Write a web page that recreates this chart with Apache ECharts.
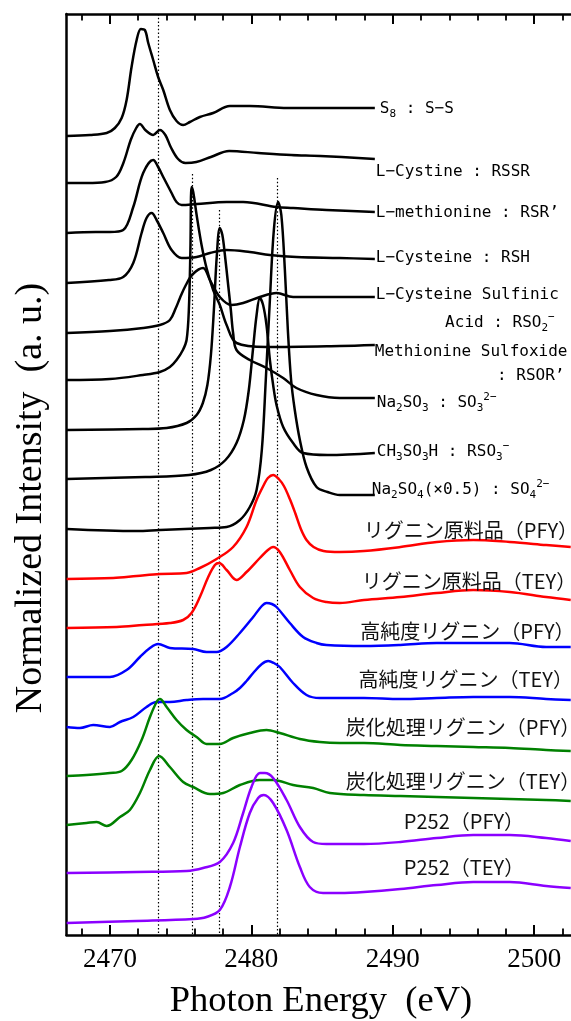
<!DOCTYPE html>
<html><head><meta charset="utf-8">
<script src="https://cdn.jsdelivr.net/npm/echarts@6.0.0/dist/echarts.min.js"></script>
<style>html,body{margin:0;padding:0;background:#fff}#c{width:571px;height:1021px}</style>
</head><body><div id="c"></div>
<script>
// ---------------- DATA ----------------
const majorTicks = [2470, 2480, 2490, 2500];
const minorTicks = [2468, 2472, 2474, 2476, 2478, 2482, 2484, 2486, 2488, 2492, 2494, 2496, 2498, 2502];
const edgeEnergies = [2473.4, 2475.8, 2477.7, 2481.8];
const edgeTops = [9.21, 7.61, 7.25, 7.57];

const s8 = [[2466.94,7.99],[2468.59,8.00],[2469.77,8.02],[2470.35,8.07],[2470.83,8.17],[2471.18,8.35],[2471.53,8.68],[2471.89,8.95],[2472.19,9.06],[2472.47,9.05],[2472.71,8.92],[2473.06,8.75],[2473.41,8.58],[2473.77,8.45],[2474.24,8.25],[2474.71,8.14],[2475.18,8.10],[2475.65,8.13],[2476.36,8.18],[2477.30,8.22],[2478.48,8.29],[2479.89,8.29],[2482.55,8.27],[2485.13,8.27],[2488.73,8.27]];
const cystine = [[2466.94,7.52],[2468.38,7.52],[2469.66,7.53],[2470.44,7.58],[2470.95,7.72],[2471.47,7.95],[2471.86,8.07],[2472.12,8.11],[2472.50,8.05],[2473.06,8.00],[2473.53,8.05],[2473.92,8.00],[2474.30,7.88],[2474.82,7.76],[2475.34,7.72],[2476.11,7.73],[2477.14,7.78],[2478.43,7.84],[2480.49,7.82],[2482.81,7.80],[2484.87,7.79],[2488.73,7.76]];
const methionine = [[2466.94,7.02],[2469.00,7.03],[2470.00,7.03],[2470.94,7.05],[2471.65,7.28],[2472.35,7.62],[2473.06,7.75],[2473.41,7.68],[2473.77,7.58],[2474.36,7.42],[2474.71,7.33],[2475.07,7.30],[2476.13,7.31],[2478.25,7.33],[2479.42,7.33],[2481.78,7.28],[2482.95,7.27],[2485.31,7.25],[2488.73,7.23]];
const cysteine = [[2466.94,6.52],[2469.93,6.55],[2470.94,6.58],[2471.65,6.72],[2472.24,7.02],[2472.59,7.17],[2472.95,7.22],[2473.30,7.15],[2473.77,7.02],[2474.36,6.85],[2475.07,6.77],[2476.13,6.78],[2477.07,6.82],[2478.25,6.85],[2479.89,6.83],[2481.31,6.80],[2483.19,6.78],[2486.25,6.77],[2488.73,6.76]];
const sulfinic = [[2466.94,6.02],[2470.00,6.04],[2472.35,6.07],[2473.53,6.10],[2474.24,6.15],[2474.66,6.27],[2474.95,6.37],[2475.37,6.50],[2475.87,6.61],[2476.59,6.67],[2477.07,6.55],[2477.77,6.38],[2478.60,6.30],[2479.42,6.32],[2480.60,6.38],[2481.78,6.42],[2482.95,6.38],[2486.25,6.38],[2488.73,6.38]];
const sulfoxide = [[2466.94,5.55],[2470.00,5.56],[2472.33,5.60],[2473.53,5.63],[2474.24,5.68],[2474.71,5.75],[2475.16,5.85],[2475.42,5.95],[2475.58,6.25],[2475.69,6.85],[2475.77,7.48],[2475.89,7.43],[2476.13,7.20],[2476.48,6.90],[2476.83,6.67],[2477.30,6.45],[2477.77,6.30],[2478.25,6.10],[2478.95,5.92],[2481.07,5.88],[2486.25,5.89],[2488.73,5.90]];
const na2so3 = [[2466.94,5.05],[2472.33,5.06],[2474.01,5.07],[2475.42,5.12],[2476.13,5.20],[2476.57,5.32],[2476.89,5.50],[2477.14,5.80],[2477.35,6.25],[2477.56,6.80],[2477.77,7.07],[2477.95,7.00],[2478.13,6.80],[2478.36,6.50],[2478.55,6.25],[2478.71,6.02],[2478.95,5.85],[2479.89,5.75],[2481.07,5.67],[2482.25,5.57],[2483.19,5.47],[2484.61,5.40],[2486.25,5.37],[2488.73,5.37]];
const ch3so3h = [[2466.94,4.56],[2472.50,4.58],[2475.59,4.60],[2477.14,4.65],[2478.17,4.75],[2478.95,4.92],[2479.47,5.15],[2479.82,5.45],[2480.11,5.85],[2480.37,6.20],[2480.60,6.37],[2480.83,6.30],[2481.07,6.10],[2481.31,5.75],[2481.54,5.50],[2481.78,5.30],[2482.25,5.08],[2482.95,4.92],[2483.66,4.82],[2485.39,4.80],[2488.73,4.82]];
const na2so4 = [[2466.94,4.06],[2471.89,4.04],[2473.53,4.05],[2477.07,4.07],[2478.25,4.08],[2479.19,4.15],[2479.89,4.28],[2480.37,4.45],[2480.74,4.85],[2481.02,5.55],[2481.31,6.35],[2481.59,7.05],[2481.89,7.33],[2482.12,7.20],[2482.37,6.65],[2482.58,6.05],[2482.81,5.55],[2483.07,5.25],[2483.43,4.95],[2483.90,4.68],[2484.61,4.48],[2485.39,4.43],[2486.25,4.40],[2488.73,4.40]];
const ligninPFY = [[2466.94,3.56],[2470.23,3.57],[2471.89,3.59],[2473.53,3.61],[2475.42,3.62],[2476.36,3.67],[2477.54,3.76],[2478.71,3.88],[2479.66,4.08],[2480.37,4.35],[2480.88,4.50],[2481.17,4.57],[2481.54,4.60],[2481.94,4.56],[2482.30,4.49],[2482.72,4.36],[2483.10,4.22],[2483.50,4.06],[2483.90,3.95],[2484.40,3.88],[2485.10,3.84],[2486.25,3.83],[2487.96,3.84],[2490.54,3.88],[2493.11,3.93],[2495.69,3.95],[2498.27,3.93],[2500.84,3.90],[2502.58,3.88]];
const ligninTEY = [[2466.94,3.07],[2470.47,3.08],[2472.35,3.10],[2474.24,3.12],[2475.18,3.15],[2475.77,3.22],[2476.36,3.38],[2476.95,3.58],[2477.42,3.70],[2477.72,3.72],[2478.25,3.65],[2478.95,3.55],[2479.66,3.63],[2480.60,3.77],[2481.17,3.85],[2481.54,3.88],[2482.01,3.83],[2482.72,3.65],[2483.43,3.48],[2484.37,3.37],[2485.31,3.33],[2486.25,3.32],[2487.96,3.35],[2490.54,3.38],[2493.11,3.42],[2495.69,3.45],[2498.27,3.43],[2500.84,3.38],[2502.58,3.35]];
const pureLigninPFY = [[2466.94,2.58],[2470.00,2.58],[2471.18,2.65],[2472.12,2.78],[2472.83,2.87],[2473.41,2.91],[2474.24,2.87],[2475.89,2.86],[2476.83,2.83],[2477.54,2.83],[2478.25,2.88],[2479.19,3.02],[2480.13,3.18],[2480.74,3.29],[2481.07,3.32],[2481.45,3.31],[2481.78,3.28],[2482.72,3.12],[2483.66,2.98],[2484.61,2.92],[2485.31,2.90],[2487.96,2.89],[2490.54,2.90],[2493.11,2.92],[2495.69,2.92],[2498.27,2.92],[2500.84,2.88],[2502.58,2.88]];
const pureLigninTEY = [[2466.94,2.08],[2467.88,2.07],[2468.82,2.10],[2470.00,2.08],[2470.71,2.13],[2471.65,2.18],[2472.59,2.28],[2473.30,2.33],[2474.24,2.33],[2475.42,2.35],[2476.59,2.36],[2477.77,2.36],[2478.71,2.42],[2479.19,2.47],[2479.66,2.54],[2480.13,2.62],[2480.74,2.71],[2481.19,2.74],[2481.59,2.72],[2482.01,2.68],[2482.95,2.52],[2483.90,2.40],[2484.84,2.37],[2486.25,2.37],[2487.96,2.37],[2490.54,2.36],[2493.11,2.37],[2495.69,2.38],[2498.27,2.38],[2500.84,2.36],[2502.58,2.35]];
const carbLigninPFY = [[2466.94,1.59],[2468.35,1.60],[2470.00,1.62],[2470.83,1.64],[2471.53,1.75],[2472.24,1.95],[2472.83,2.18],[2473.30,2.33],[2473.53,2.36],[2474.01,2.28],[2474.71,2.15],[2475.42,2.05],[2476.13,1.98],[2476.83,1.91],[2477.77,1.91],[2478.71,1.97],[2479.89,2.02],[2481.07,2.05],[2482.01,2.02],[2483.43,1.96],[2484.84,1.93],[2486.25,1.92],[2487.96,1.92],[2490.54,1.90],[2493.11,1.89],[2495.69,1.88],[2498.27,1.87],[2500.84,1.85],[2502.58,1.84]];
const carbLigninTEY = [[2466.94,1.10],[2468.35,1.12],[2469.06,1.13],[2469.77,1.09],[2470.71,1.18],[2471.41,1.25],[2472.12,1.42],[2472.83,1.65],[2473.48,1.79],[2474.24,1.68],[2475.18,1.53],[2475.89,1.48],[2477.07,1.41],[2478.01,1.42],[2479.19,1.50],[2480.60,1.55],[2481.54,1.55],[2482.95,1.50],[2484.37,1.47],[2485.55,1.42],[2487.96,1.40],[2490.54,1.39],[2493.11,1.38],[2495.69,1.37],[2498.27,1.36],[2500.84,1.35],[2502.58,1.34]];
const p252PFY = [[2466.94,0.62],[2471.89,0.63],[2475.42,0.64],[2476.59,0.67],[2477.77,0.73],[2478.71,0.92],[2479.42,1.22],[2480.01,1.48],[2480.60,1.62],[2480.95,1.62],[2481.54,1.57],[2482.49,1.35],[2483.43,1.08],[2484.37,0.93],[2485.31,0.91],[2487.96,0.91],[2490.54,0.93],[2493.11,0.97],[2495.69,1.00],[2498.27,1.00],[2500.84,0.97],[2502.58,0.94]];
const p252TEY = [[2466.94,0.12],[2471.89,0.14],[2475.89,0.16],[2476.83,0.18],[2477.77,0.25],[2478.48,0.48],[2479.19,0.88],[2479.89,1.22],[2480.48,1.37],[2480.88,1.40],[2481.54,1.32],[2482.49,1.05],[2483.43,0.68],[2484.13,0.48],[2485.07,0.42],[2486.25,0.42],[2487.96,0.43],[2490.54,0.46],[2493.11,0.50],[2495.69,0.53],[2498.27,0.53],[2500.84,0.49],[2502.58,0.47]];

const labelTexts = [
  'S{s|8} : S\u2212S',
  'L\u2212Cystine : RSSR',
  'L\u2212methionine : RSR\u2019',
  'L\u2212Cysteine : RSH',
  'L\u2212Cysteine Sulfinic',
  'Acid : RSO{s|2}{p|\u2212}',
  'Methionine Sulfoxide',
  ': RSOR\u2019',
  'Na{s|2}SO{s|3} : SO{s|3}{p|2\u2212}',
  'CH{s|3}SO{s|3}H : RSO{s|3}{p|\u2212}',
  'Na{s|2}SO{s|4}(\u00d70.5) : SO{s|4}{p|2\u2212}',
  'リグニン原料品（PFY）',
  'リグニン原料品（TEY）',
  '高純度リグニン（PFY）',
  '高純度リグニン（TEY）',
  '炭化処理リグニン（PFY）',
  '炭化処理リグニン（TEY）',
  'P252（PFY）',
  'P252（TEY）'
];

// ---------------- LAYOUT / STYLE ----------------
const E_MIN = 2466.93, E_MAX = 2502.6, V_MIN = 0, V_MAX = 9.21;
const BLACK = '#000000', RED = '#ff0000', BLUE = '#0000ff', GREEN = '#008000', PURPLE = '#8b00ff';
const curves = [
  [s8, BLACK], [cystine, BLACK], [methionine, BLACK], [cysteine, BLACK], [sulfinic, BLACK],
  [sulfoxide, BLACK], [na2so3, BLACK], [ch3so3h, BLACK], [na2so4, BLACK],
  [ligninPFY, RED], [ligninTEY, RED], [pureLigninPFY, BLUE], [pureLigninTEY, BLUE],
  [carbLigninPFY, GREEN], [carbLigninTEY, GREEN], [p252PFY, PURPLE], [p252TEY, PURPLE]
];
// label anchors (left edge, vertical centre) in axis units
const labelAnchors = [
  [2489.08, 8.26], [2488.80, 7.63], [2488.80, 7.22], [2488.80, 6.77], [2488.80, 6.40],
  [2493.70, 6.12], [2488.73, 5.83], [2497.37, 5.59], [2488.87, 5.32], [2488.87, 4.835],
  [2488.52, 4.45],
  [2487.95, 4.05], [2487.81, 3.54], [2487.70, 3.04], [2487.58, 2.56],
  [2486.68, 2.08], [2486.68, 1.54], [2490.78, 1.14], [2490.78, 0.68]
];

const chart = echarts.init(document.getElementById('c'), null, {renderer: 'canvas', width: 571, height: 1021});

const axisBase = {type: 'value', min: E_MIN, max: E_MAX, splitLine: {show: false}, minorTick: {show: false}};
const lineW = 2.5;
const option = {
  animation: false,
  backgroundColor: '#ffffff',
  grid: {left: 66.5, right: 0, top: 14, bottom: 86, containLabel: false},
  xAxis: [
    Object.assign({}, axisBase, {position: 'bottom',
      axisLine: {show: true, onZero: false, lineStyle: {color: '#000', width: lineW}},
      axisTick: {show: true, inside: true, length: 10, customValues: majorTicks, lineStyle: {color: '#000', width: 2}},
      axisLabel: {show: true, customValues: majorTicks, margin: 11, color: '#000', fontFamily: 'Liberation Serif', fontSize: 27,
        formatter: v => String(v)}}),
    Object.assign({}, axisBase, {position: 'bottom',
      axisLine: {show: false, onZero: false},
      axisTick: {show: true, inside: true, length: 6.5, customValues: minorTicks, lineStyle: {color: '#000', width: 1.8}},
      axisLabel: {show: false}}),
    Object.assign({}, axisBase, {position: 'top',
      axisLine: {show: true, onZero: false, lineStyle: {color: '#000', width: lineW}},
      axisTick: {show: true, inside: true, length: 10, customValues: majorTicks, lineStyle: {color: '#000', width: 2}},
      axisLabel: {show: false}}),
    Object.assign({}, axisBase, {position: 'top',
      axisLine: {show: false, onZero: false},
      axisTick: {show: true, inside: true, length: 6.5, customValues: minorTicks, lineStyle: {color: '#000', width: 1.8}},
      axisLabel: {show: false}})
  ],
  yAxis: {type: 'value', min: V_MIN, max: V_MAX,
    axisLine: {show: true, onZero: false, lineStyle: {color: '#000', width: lineW}},
    axisTick: {show: false}, axisLabel: {show: false}, splitLine: {show: false}},
  series: curves.map(([d, col], i) => ({
    type: 'line', data: d, xAxisIndex: 0, yAxisIndex: 0,
    symbol: 'none', smooth: 0.35, silent: true, z: 3,
    lineStyle: {color: col, width: 2.5, join: 'round'}, itemStyle: {color: col},
    markLine: i === 0 ? {
      silent: true, symbol: ['none', 'none'], label: {show: false}, z: 1,
      lineStyle: {color: '#000', width: 1.2, type: [1.5, 2.2]},
      data: edgeEnergies.map((e, k) => [{coord: [e, edgeTops[k]]}, {coord: [e, V_MIN]}])
    } : undefined
  }))
};
chart.setOption(option);

const monoFont = 'DejaVu Sans Mono';
const rich = {
  s: {fontSize: 11, fontFamily: monoFont, lineHeight: 10, verticalAlign: 'bottom', fill: '#000'},
  p: {fontSize: 11, fontFamily: monoFont, lineHeight: 10, verticalAlign: 'top', fill: '#000'}
};
const graphics = labelTexts.map((t, i) => {
  const pt = chart.convertToPixel({seriesIndex: 0}, labelAnchors[i]);
  const jp = i >= 11;
  return {
    type: 'text', x: pt[0], y: pt[1], silent: true, z: 10,
    style: jp ? {text: t, fontSize: 20, fontFamily: 'Noto Sans CJK JP', fill: '#111', align: 'left', verticalAlign: 'middle'}
              : {text: t, fontSize: 16, fontFamily: monoFont, lineHeight: 22, fill: '#000', align: 'left', verticalAlign: 'middle', rich: rich}
  };
});
graphics.push({
  type: 'text', x: 31, y: 498, rotation: Math.PI / 2, silent: true,
  style: {text: 'Normalized Intensity  (a. u.)', fontSize: 38, fontFamily: 'Liberation Serif', fill: '#000', align: 'center', verticalAlign: 'middle'}
});
graphics.push({
  type: 'text', x: 321, y: 1001, silent: true,
  style: {text: 'Photon Energy  (eV)', fontSize: 36.5, fontFamily: 'Liberation Serif', fill: '#000', align: 'center', verticalAlign: 'middle'}
});
chart.setOption({graphic: graphics});
</script></body></html>
